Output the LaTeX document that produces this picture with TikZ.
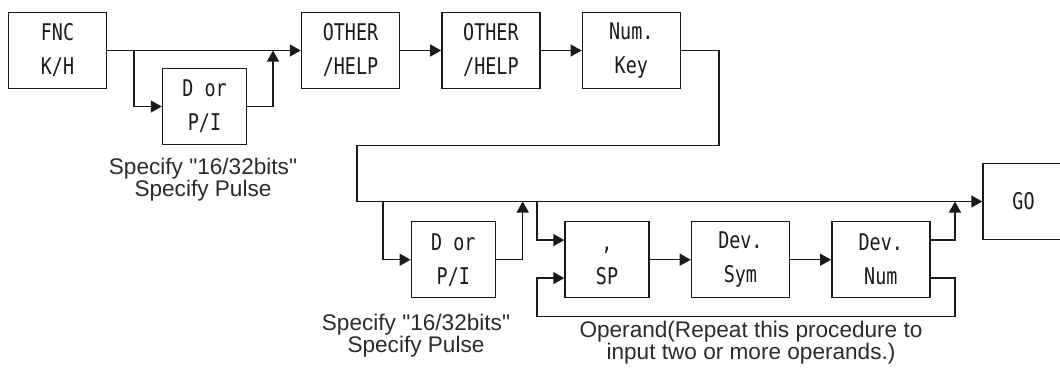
\documentclass[tikz,border=0pt]{standalone}
\usepackage{fontspec}
\setmainfont{Liberation Sans}
\newfontfamily\keyfont[FakeStretch=0.8]{DejaVu Sans Mono}
\usetikzlibrary{arrows.meta,positioning}
\definecolor{ink}{HTML}{1A1A1A}
\definecolor{caption}{HTML}{2B2B2B}
\tikzset{
  >={Triangle[length=5.5pt,width=6pt]},
  box/.style={draw=ink,line width=0.7pt,minimum width=49pt,minimum height=38pt,align=center,inner sep=2pt,font=\keyfont\fontsize{11.5}{17}\selectfont,text=ink},
  narrowbox/.style={box,minimum width=42pt},
  arrow/.style={->,line width=0.7pt,draw=ink},
  note/.style={align=center,inner sep=0pt,font=\fontsize{11.3}{11}\selectfont,text=caption},
}

\begin{document}
\begin{tikzpicture}[x=0.5pt,y=-0.5pt,node distance=20.5pt]
\useasboundingbox (0,0) rectangle (1060,372);

% first row of keys
\node[box] (fnc) at (57.5,50.5) {FNC\\K/H};
\node[box,right=96.8pt of fnc] (other) {OTHER\\/HELP};
\node[box,right=of other] (help) {OTHER\\/HELP};
\node[box,right=of help] (numkey) {Num.\\Key};
\node[narrowbox] (dpa) at (204.5,106.5) {D or\\P/I};

% second row of keys
\node[narrowbox] (dpb) at (453.3,259.7) {D or\\P/I};
\node[narrowbox] (sp) at (607,259.7) {\vphantom{D},\\SP};
\node[box,right=of sp] (devsym) {Dev.\\Sym};
\node[box,right=of devsym] (devnum) {Dev.\\Num};
\node[box,minimum width=40.5pt] (go) at (1023.5,201.5) {GO};

% junctions
\coordinate (splita) at (134,50.5);
\coordinate (joina) at (273,50.5);
\coordinate (turna) at (719,145.7);
\coordinate (turnb) at (357,145.7);
\coordinate (splitb) at (383,201.5);
\coordinate (joinb) at (522.7,201.5);
\coordinate (splitc) at (537,201.5);
\coordinate (joinc) at (955,201.5);
\coordinate (loopr) at (955,316.7);
\coordinate (loopl) at (537,316.7);

\draw[arrow] (fnc.east) -- (other.west);
\draw[arrow] (splita) |- (dpa.west);
\draw[arrow] (dpa.east) -| (joina);
\draw[arrow] (other) -- (help);
\draw[arrow] (help) -- (numkey);
\draw[arrow] (numkey.east) -| (turna) -- (turnb) |- (go.west);

\draw[arrow] (splitb) |- (dpb.west);
\draw[arrow] (dpb.east) -| (joinb);
\draw[arrow] (splitc) |- ([yshift=9.8pt]sp.west);
\draw[arrow] (sp) -- (devsym);
\draw[arrow] (devsym) -- (devnum);
\draw[arrow] ([yshift=9.8pt]devnum.east) -| (joinc);
\draw[arrow] ([yshift=-9.2pt]devnum.east) -| (loopr) -- (loopl) |- ([yshift=-9.2pt]sp.west);

% captions
\node[note] (bitsa) at (203,180) {Specify \textquotedbl16/32bits\textquotedbl\\Specify Pulse};
\node[note] (bitsb) at (416,336) {Specify \textquotedbl16/32bits\textquotedbl\\Specify Pulse};
\node[note] (operand) at (751,343) {Operand(Repeat this procedure to\\input two or more operands.)};

\end{tikzpicture}
\end{document}
